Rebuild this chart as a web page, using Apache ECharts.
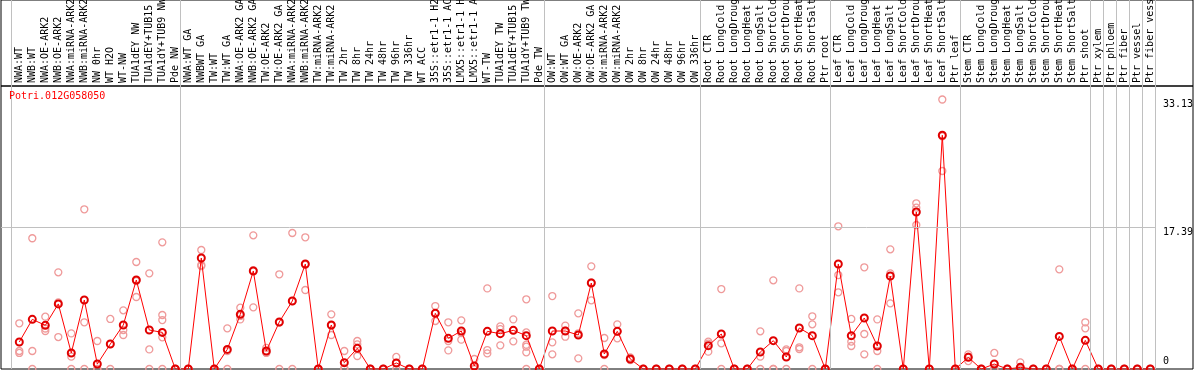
<!DOCTYPE html>
<html>
<head>
<meta charset="utf-8">
<script src="https://cdn.jsdelivr.net/npm/echarts@6/dist/echarts.min.js"></script>
<style>
html,body{margin:0;padding:0;background:#fff;}
#chart{width:1194px;height:370px;}
</style>
</head>
<body>
<div id="chart"></div>
<script>
const geneName = 'Potri.012G058050';

const categories = [
  'NWA:WT','NWB:WT','NWA:OE-ARK2','NWB:OE-ARK2','NWA:miRNA-ARK2','NWB:miRNA-ARK2','NW 0hr','WT H2O','WT-NW',
  'TUA1dEY NW','TUA1dEY+TUB15 NW','TUA1dY+TUB9 NW','Pde NW',
  'NWA:WT GA','NWBWT GA','TW:WT','TW:WT GA','NWA:OE-ARK2 GA','NWB:OE-ARK2 GA','TW:OE-ARK2','TW:OE-ARK2 GA',
  'NWA:miRNA-ARK2','NWB:miRNA-ARK2','TW:miRNA-ARK2','TW:miRNA-ARK2','TW 2hr','TW 8hr','TW 24hr','TW 48hr','TW 96hr','TW 336hr',
  'WT ACC','35S::etr1-1 H2O','35S::etr1-1 ACC','LMX5::etr1-1 H2O','LMX5::etr1-1 ACC','WT-TW','TUA1dEY TW','TUA1dEY+TUB15 TW','TUA1dY+TUB9 TW','Pde TW',
  'OW:WT','OW:WT GA','OW:OE-ARK2','OW:OE-ARK2 GA','OW:miRNA-ARK2','OW:miRNA-ARK2','OW 2hr','OW 8hr','OW 24hr','OW 48hr','OW 96hr','OW 336hr',
  'Root CTR','Root LongCold','Root LongDrought','Root LongHeat','Root LongSalt','Root ShortCold','Root ShortDrought','Root ShortHeat','Root ShortSalt','Ptr root',
  'Leaf CTR','Leaf LongCold','Leaf LongDrought','Leaf LongHeat','Leaf LongSalt','Leaf ShortCold','Leaf ShortDrought','Leaf ShortHeat','Leaf ShortSalt','Ptr leaf',
  'Stem CTR','Stem LongCold','Stem LongDrought','Stem LongHeat','Stem LongSalt','Stem ShortCold','Stem ShortDrought','Stem ShortHeat','Stem ShortSalt','Ptr shoot',
  'Ptr xylem','Ptr phloem','Ptr fiber','Ptr vessel','Ptr fiber vessel'
];

const means = [
  3.32, 6.10, 5.37, 8.00, 1.97, 8.48, 0.61, 3.07, 5.41, 10.94, 4.79, 4.50, 0,
  0, 13.64, 0, 2.41, 6.72, 12.05, 2.21, 5.78, 8.36, 12.90, 0, 5.41, 0.78, 2.54, 0, 0, 0.74, 0, 0,
  6.84, 3.77, 4.67, 0.37, 4.63, 4.34, 4.75, 4.10, 0,
  4.67, 4.67, 4.18, 10.57, 1.84, 4.63, 1.23, 0, 0, 0, 0, 0,
  2.87, 4.30, 0, 0, 2.09, 3.48, 1.48, 5.04, 4.10, 0,
  12.90, 4.10, 6.27, 2.83, 11.43, 0, 19.30, 0, 28.73, 0,
  1.43, 0, 0.61, 0, 0.20, 0, 0, 4.01, 0, 3.52,
  0, 0, 0, 0, 0
];

const replicates = [
  [5.62, 2.21, 1.97], [16.07, 2.21, 0], [6.43, 4.98, 4.67], [11.88, 8.19, 3.93], [4.38, 1.52, 0],
  [19.63, 5.74, 0], [3.44, 0, 0], [6.15, 3.07, 0], [7.21, 4.79, 4.18], [13.15, 10.82, 8.85],
  [11.76, 2.41, 0], [15.57, 6.64, 6.02, 3.89, 0], [0, 0, 0],
  [0, 0, 0], [14.63, 12.78, 12.66], [0, 0, 0], [5.0, 2.2, 0], [7.54, 6.52, 6.1], [16.43, 12.14, 7.58],
  [2.6, 2.0, 2.0], [11.64, 5.7, 0], [16.72, 8.36, 0], [16.19, 12.8, 9.71], [0, 0, 0], [6.72, 5.33, 4.18],
  [2.21, 0.13, 0], [3.44, 3.03, 1.6], [0, 0, 0], [0, 0, 0], [1.48, 0.74, 0], [0, 0, 0], [0, 0, 0],
  [7.74, 6.88, 5.9], [5.74, 3.44, 2.29], [5.98, 4.42, 3.61], [1.23, 0, 0], [9.91, 2.33, 1.92],
  [5.24, 4.9, 2.91], [6.1, 4.75, 3.4], [8.57, 4.5, 2.99, 2.74, 2.05, 0], [0, 0, 0],
  [8.97, 3.28, 1.8], [5.33, 4.71, 3.97], [6.84, 4.39, 1.31], [12.62, 10.65, 8.44], [3.81, 1.71, 0],
  [5.49, 4.63, 3.77], [1.43, 1.16, 1.1], [0, 0, 0], [0, 0, 0], [0, 0, 0], [0, 0, 0], [0, 0, 0],
  [3.36, 3.12, 2.13], [9.83, 3.16, 0], [0, 0, 0], [0, 0, 0], [4.63, 1.52, 0], [10.9, 0, 0],
  [2.41, 2.21, 0], [9.91, 2.67, 2.46], [6.48, 5.49, 0], [0, 0, 0],
  [17.54, 11.55, 9.43], [6.15, 3.36, 2.83], [12.5, 4.3, 1.8], [6.1, 2.21, 0], [14.71, 11.76, 8.07],
  [0, 0, 0], [20.37, 19.83, 17.7], [0, 0, 0], [33.13, 28.6, 24.34], [0, 0, 0],
  [1.8, 1.52, 0.97], [0, 0, 0], [1.97, 0, 0], [0, 0, 0], [0.82, 0, 0], [0, 0, 0], [0, 0, 0],
  [12.25, 0, 0], [0, 0, 0], [5.74, 5.0, 0],
  [0, 0, 0], [0, 0, 0], [0, 0, 0], [0, 0, 0], [0, 0, 0]
];

const yTickLabels = [17.39, 33.13];
const yZeroLabel = [0];
const groupStarts = [0, 13, 41, 53, 63, 73, 83, 84, 85, 86, 87, 88];

// ---- layout constants ----
const MONO = '"DejaVu Sans Mono", "Liberation Mono", monospace';
const Y_MAX = 33.13 * 1.05;
const STEP = 13;            // px per category
const FIRST_X = 19.3;       // px of first category centre
const PLOT_W = 1192;
const X_MIN = -(FIRST_X - 1) / STEP;
const X_MAX = X_MIN + PLOT_W / STEP;
const BOUND_OFF = 0.64;

const meanData = means.map((v, i) => [i, v]);
const repData = [];
replicates.forEach((arr, i) => arr.forEach(v => repData.push([i, v])));
const boundaryLines = groupStarts.map(k => ({ xAxis: k - BOUND_OFF }));
const gridLineStyle = { color: '#c0c0c0', width: 1, type: 'solid', opacity: 1 };

const chart = echarts.init(document.getElementById('chart'), null, { renderer: 'canvas' });

const option = {
  animation: false,
  backgroundColor: '#fff',
  title: {
    text: geneName, left: 9, top: 91, padding: 0,
    textStyle: { color: '#ff0000', fontSize: 10, fontFamily: MONO, fontWeight: 'normal' }
  },
  grid: [
    { left: 1, right: 1, top: 86, bottom: 1, show: true, borderColor: '#000', borderWidth: 1,
      backgroundColor: 'transparent', containLabel: false, outerBoundsMode: 'none' },
    { left: 1, right: 1, top: 0, height: 86, show: true, borderColor: '#000', borderWidth: 1,
      backgroundColor: 'transparent', containLabel: false, outerBoundsMode: 'none' }
  ],
  xAxis: [
    { type: 'value', gridIndex: 0, min: X_MIN, max: X_MAX,
      axisLine: { show: false }, axisTick: { show: false }, axisLabel: { show: false }, splitLine: { show: false } },
    { type: 'value', gridIndex: 1, min: X_MIN, max: X_MAX, position: 'bottom',
      axisLine: { show: false }, axisTick: { show: false }, splitLine: { show: false },
      axisLabel: {
        show: true, inside: true, rotate: 90, margin: 3, hideOverlap: false,
        customValues: categories.map((c, i) => i),
        formatter: v => categories[Math.round(v)] || '',
        color: '#000', fontSize: 10, fontFamily: MONO
      } }
  ],
  yAxis: [
    { type: 'value', gridIndex: 0, min: 0, max: Y_MAX, position: 'right',
      axisLine: { show: false }, axisTick: { show: false }, splitLine: { show: false },
      axisLabel: { inside: true, margin: 30, align: 'left', verticalAlign: 'top',
        customValues: yTickLabels, formatter: v => v.toFixed(2),
        color: '#000', fontSize: 10, fontFamily: MONO } },
    { type: 'value', gridIndex: 0, min: 0, max: Y_MAX, position: 'right',
      axisLine: { show: false }, axisTick: { show: false }, splitLine: { show: false },
      axisLabel: { inside: true, margin: 30, align: 'left', verticalAlign: 'bottom',
        customValues: yZeroLabel, formatter: v => String(v),
        color: '#000', fontSize: 10, fontFamily: MONO, padding: [0, 0, 3, 0] } },
    { type: 'value', gridIndex: 1, min: 0, max: 1, show: false }
  ],
  series: [
    { type: 'line', xAxisIndex: 0, yAxisIndex: 0, data: [], z: 1, silent: true,
      color: '#c0c0c0',
      markLine: { silent: true, symbol: 'none', animation: false, label: { show: false },
        lineStyle: gridLineStyle, emphasis: { disabled: true },
        data: boundaryLines.concat([[ { coord: [X_MIN, yTickLabels[0]] }, { coord: [88 - BOUND_OFF, yTickLabels[0]] } ]]) } },
    { type: 'line', xAxisIndex: 1, yAxisIndex: 2, data: [], z: 1, silent: true,
      color: '#c0c0c0',
      markLine: { silent: true, symbol: 'none', animation: false, label: { show: false },
        lineStyle: gridLineStyle, emphasis: { disabled: true },
        data: boundaryLines } },
    { type: 'scatter', xAxisIndex: 0, yAxisIndex: 0, data: repData, z: 3, silent: true,
      symbol: 'circle', symbolSize: 7,
      itemStyle: { color: 'rgba(0,0,0,0)', borderColor: '#ef9a9a', borderWidth: 1.3, opacity: 1 } },
    { type: 'line', xAxisIndex: 0, yAxisIndex: 0, data: meanData, z: 4, silent: true,
      symbol: 'circle', symbolSize: 7, showSymbol: true, showAllSymbol: true,
      lineStyle: { color: '#ff0000', width: 1 },
      itemStyle: { color: 'rgba(0,0,0,0)', borderColor: '#e00000', borderWidth: 2 } }
  ]
};
chart.setOption(option);
</script>
</body>
</html>
